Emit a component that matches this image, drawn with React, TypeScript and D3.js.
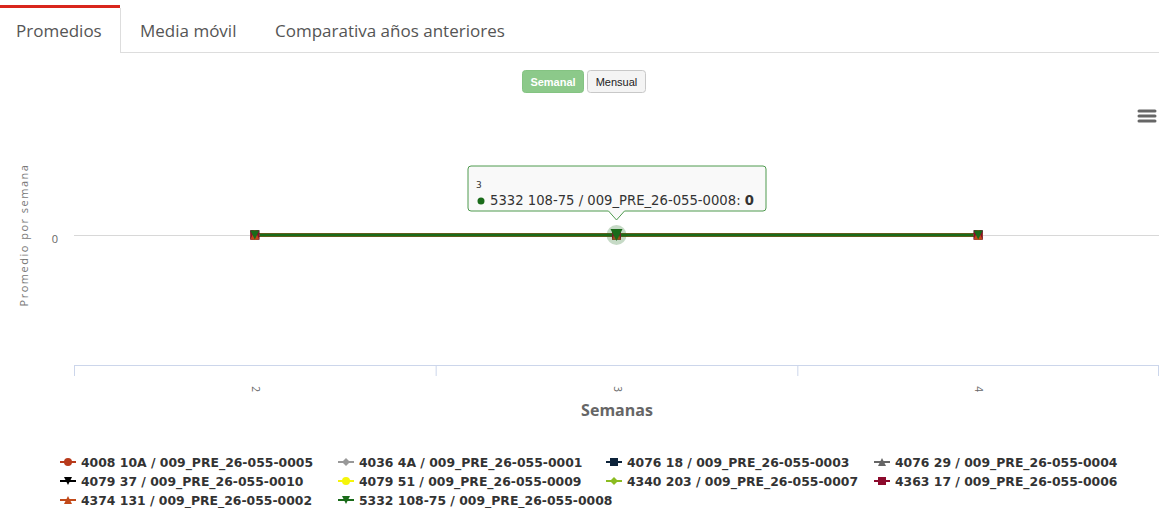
import React from 'react';
import * as d3 from 'd3';

// tabs / buttons
const tabLabels = ['Promedios', 'Media móvil', 'Comparativa años anteriores'];
const periodButtons = ['Semanal', 'Mensual'];

// x categories (weeks)
const weeks = ['2', '3', '4'];
const yTicks = [0];

const seriesNames = [
  '4008 10A / 009_PRE_26-055-0005',
  '4036 4A / 009_PRE_26-055-0001',
  '4076 18 / 009_PRE_26-055-0003',
  '4076 29 / 009_PRE_26-055-0004',
  '4079 37 / 009_PRE_26-055-0010',
  '4079 51 / 009_PRE_26-055-0009',
  '4340 203 / 009_PRE_26-055-0007',
  '4363 17 / 009_PRE_26-055-0006',
  '4374 131 / 009_PRE_26-055-0002',
  '5332 108-75 / 009_PRE_26-055-0008',
];
const seriesColors = [
  '#b83a1b', '#999999', '#0d233a', '#666666', '#000000',
  '#f5f50a', '#8bbc21', '#8c0a2c', '#c24a1a', '#1a6b1a',
];
const seriesSymbols = [
  'circle', 'diamond', 'square', 'triangle', 'triangle-down',
  'circle', 'diamond', 'square', 'triangle', 'triangle-down',
];
const seriesValues = [
  [0, 0, 0], [0, 0, 0], [0, 0, 0], [0, 0, 0], [0, 0, 0],
  [0, 0, 0], [0, 0, 0], [0, 0, 0], [0, 0, 0], [0, 0, 0],
];

// hovered point shown in tooltip
const hoverSeries = 9;
const hoverPoint = 1;

const W = 1159;
const H = 508;
const FONT = '"Open Sans", sans-serif';
const LEGEND_FONT = '"DejaVu Sans", sans-serif';

function symbolPath(sym: string, cx: number, cy: number, r: number) {
  switch (sym) {
    case 'square':
      return `M${cx - r},${cy - r}H${cx + r}V${cy + r}H${cx - r}Z`;
    case 'diamond':
      return `M${cx},${cy - r}L${cx + r},${cy}L${cx},${cy + r}L${cx - r},${cy}Z`;
    case 'triangle':
      return `M${cx},${cy - r}L${cx + r},${cy + r}L${cx - r},${cy + r}Z`;
    case 'triangle-down':
      return `M${cx - r},${cy - r}L${cx + r},${cy - r}L${cx},${cy + r}Z`;
    default:
      return `M${cx - r},${cy}a${r},${r} 0 1,0 ${2 * r},0a${r},${r} 0 1,0 ${-2 * r},0Z`;
  }
}

export default function App() {
  const plotLeft = 74, plotRight = 1159, plotTop = 105, plotBottom = 365;
  const x = d3.scaleBand().domain(weeks).range([plotLeft, plotRight]);
  const y = d3.scaleLinear().domain([-1, 1]).range([plotBottom, plotTop]);
  const cx = (w: string) => (x(w) ?? 0) + x.bandwidth() / 2;

  const line = d3.line<number>()
    .x((_, i) => cx(weeks[i]))
    .y(d => y(d));

  const tickXs = weeks.map(w => x(w) ?? 0).concat([plotRight - 1]);

  // legend layout
  const legendCols = [60, 338, 606, 874];
  const legendRows = [462, 481, 500];

  const hx = cx(weeks[hoverPoint]);
  const hy = y(seriesValues[hoverSeries][hoverPoint]);
  const tipL = 468, tipR = 766, tipT = 166, tipB = 211;

  return (
    <div style={{ position: 'absolute', left: 0, top: 0, width: W, height: H, background: '#fff' }}>
      <svg width={W} height={H} style={{ display: 'block' }}>
        {/* tabs */}
        <line x1={120.5} y1={52.5} x2={W} y2={52.5} stroke="#dddddd" />
        <line x1={120.5} y1={8} x2={120.5} y2={53} stroke="#dddddd" />
        <rect x={0} y={5} width={120} height={3} fill="#d9261c" />
        {tabLabels.map((t, i) => (
          <text key={t} x={[16, 140, 275][i]} y={37} fontFamily={FONT} fontSize={17} fill="#555">{t}</text>
        ))}

        {/* period buttons */}
        <rect x={522.5} y={70.5} width={61} height={22} rx={3} fill="#8cc98a" stroke="#84c382" />
        <text x={553} y={85.5} textAnchor="middle" fontFamily='"Liberation Sans", Arial, sans-serif' fontSize={11} fontWeight="bold" fill="#fff">{periodButtons[0]}</text>
        <rect x={587.5} y={70.5} width={58} height={22} rx={3} fill="#f4f4f4" stroke="#c8c8c8" />
        <text x={616.5} y={85.5} textAnchor="middle" fontFamily='"Liberation Sans", Arial, sans-serif' fontSize={11} fill="#222">{periodButtons[1]}</text>

        {/* context menu */}
        {[111, 116, 121].map(v => (
          <line key={v} x1={1139} x2={1155} y1={v} y2={v} stroke="#666" strokeWidth={3} strokeLinecap="round" />
        ))}

        {/* grid + y axis */}
        {yTicks.map(t => (
          <g key={t}>
            <line x1={plotLeft} x2={plotRight} y1={y(t) + 0.5} y2={y(t) + 0.5} stroke="#d8d8d8" />
            <text x={58} y={y(t) + 8} textAnchor="end" fontFamily={FONT} fontSize={11} fill="#666">{t}</text>
          </g>
        ))}
        <text transform={`translate(28,${(plotTop + plotBottom) / 2}) rotate(-90)`} textAnchor="middle"
          fontFamily={FONT} fontSize={11} letterSpacing={1.5} fill="#777">Promedio por semana</text>

        {/* x axis */}
        <line x1={plotLeft} x2={plotRight} y1={plotBottom + 0.5} y2={plotBottom + 0.5} stroke="#ccd6eb" />
        {tickXs.map((tx, i) => (
          <line key={i} x1={tx + 0.5} x2={tx + 0.5} y1={plotBottom} y2={plotBottom + 11} stroke="#ccd6eb" />
        ))}
        {weeks.map(w => (
          <text key={w} transform={`translate(${cx(w) - 3},${389}) rotate(90)`} textAnchor="middle"
            fontFamily={FONT} fontSize={10} fill="#666">{w}</text>
        ))}
        <text x={(plotLeft + plotRight) / 2 + 0.5} y={416} textAnchor="middle" fontFamily={FONT}
          fontSize={16} fontWeight="bold" fill="#666">Semanas</text>

        {/* series */}
        {seriesValues.map((vals, si) => (
          <g key={si}>
            <path d={line(vals) ?? ''} fill="none" stroke={seriesColors[si]} strokeWidth={3} />
          </g>
        ))}
        {seriesValues.map((vals, si) => (
          <g key={'m' + si}>
            {vals.map((v, i) => (si === hoverSeries && i === hoverPoint) ? null : (
              <path key={i} d={symbolPath(seriesSymbols[si], cx(weeks[i]), y(v), 4.5)} fill={seriesColors[si]} />
            ))}
          </g>
        ))}

        {/* hover state */}
        <circle cx={hx} cy={hy} r={10} fill={seriesColors[hoverSeries]} opacity={0.25} />
        <path d={symbolPath(seriesSymbols[hoverSeries], hx, hy, 6)} fill={seriesColors[hoverSeries]} />

        {/* tooltip */}
        <path
          d={`M${tipL + 3},${tipT}H${tipR - 3}Q${tipR},${tipT} ${tipR},${tipT + 3}V${tipB - 3}Q${tipR},${tipB} ${tipR - 3},${tipB}H${hx + 8}L${hx},${tipB + 9}L${hx - 8},${tipB}H${tipL + 3}Q${tipL},${tipB} ${tipL},${tipB - 3}V${tipT + 3}Q${tipL},${tipT} ${tipL + 3},${tipT}Z`}
          fill="rgba(248,248,248,0.88)" stroke="#4f9a4f" strokeWidth={1} />
        <text x={476} y={188} fontFamily={LEGEND_FONT} fontSize={9} fill="#333">{weeks[hoverPoint]}</text>
        <circle cx={481} cy={201} r={3.5} fill={seriesColors[hoverSeries]} />
        <text x={490} y={205} fontFamily={LEGEND_FONT} fontSize={13.2} fill="#333">
          {seriesNames[hoverSeries]}: <tspan fontWeight="bold">{seriesValues[hoverSeries][hoverPoint]}</tspan>
        </text>

        {/* legend */}
        {seriesNames.map((name, i) => {
          const lx = legendCols[i % 4];
          const ly = legendRows[Math.floor(i / 4)];
          return (
            <g key={name}>
              <line x1={lx} x2={lx + 16} y1={ly} y2={ly} stroke={seriesColors[i]} strokeWidth={2} />
              <path d={symbolPath(seriesSymbols[i], lx + 8, ly, 4)} fill={seriesColors[i]} />
              <text x={lx + 21} y={ly + 4.5} fontFamily={LEGEND_FONT} fontSize={12.4} fontWeight="bold" fill="#333">{name}</text>
            </g>
          );
        })}
      </svg>
    </div>
  );
}
